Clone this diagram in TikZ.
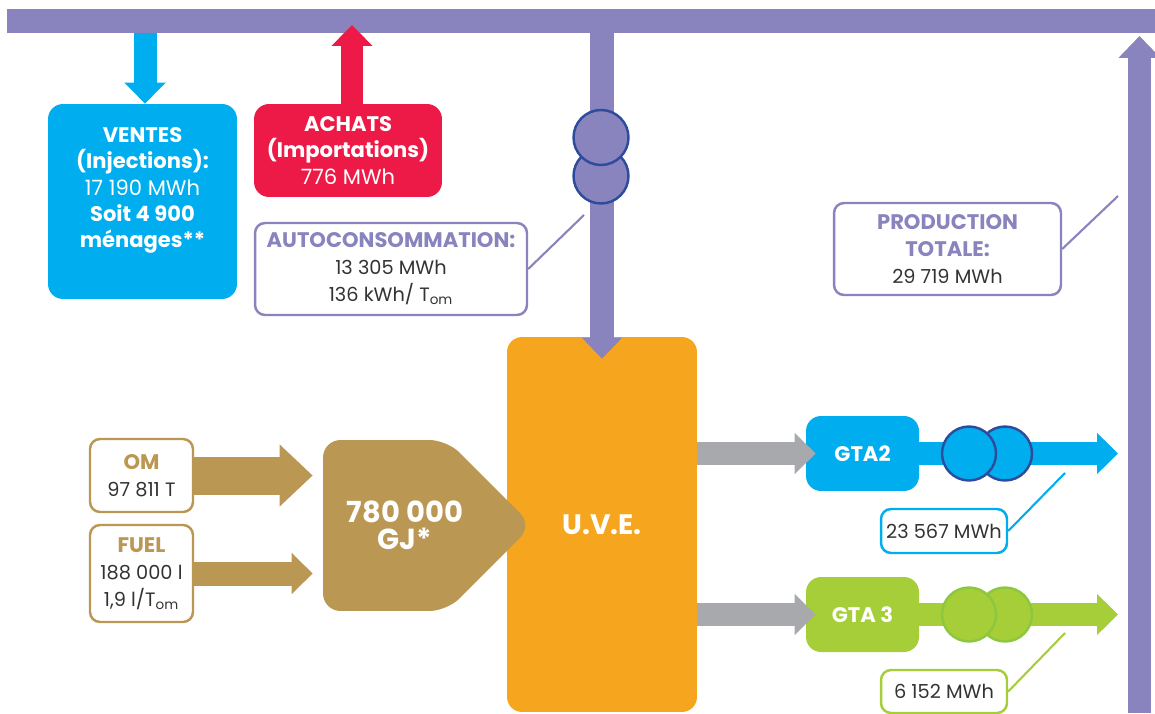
\documentclass[tikz,border=0pt]{standalone}
\usepackage{fontspec}
\setmainfont{Poppins}
\usetikzlibrary{
    arrows.meta,
    shapes.symbols
}
\definecolor{gridviolet}{HTML}{8983BE}
\definecolor{salecyan}{HTML}{00AEEF}
\definecolor{buyred}{HTML}{ED1A47}
\definecolor{plantorange}{HTML}{F6A51E}
\definecolor{fueltan}{HTML}{BA9753}
\definecolor{steamgrey}{HTML}{A7A9AC}
\definecolor{gtagreen}{HTML}{A6CE39}
\definecolor{ringblue}{HTML}{2E4C9C}
\definecolor{ringgreen}{HTML}{8DC63F}
\definecolor{valuegrey}{HTML}{333333}

\tikzset{
    pipe/.style={line width=0.46cm, -{Triangle[width=0.8cm, length=0.42cm]}},
    fatpipe/.style={line width=0.76cm, -{Triangle[width=1.2cm, length=0.66cm]}},
    bigbox/.style={rectangle, rounded corners=0.3cm, inner sep=0pt, align=center, text=white, font=\fontsize{12}{15}\selectfont},
    tagbox/.style={rectangle, draw, line width=1.4pt, rounded corners=0.2cm, fill=white, inner sep=0pt, align=center, text=valuegrey, font=\fontsize{11}{15.3}\selectfont},
    meter/.style={circle, minimum size=1.08cm, inner sep=0pt, line width=1.4pt},
    leader/.style={line width=1.2pt}
}

\begin{document}
\begin{tikzpicture}[x=0.02cm, y=-0.02cm]
            \useasboundingbox (0, 0) rectangle (1155, 713);

            \coordinate (bus1) at (7, 21);
            \coordinate (bus2) at (1155, 21);
            \coordinate (bus3) at (602, 21);
            \coordinate (bus4) at (145, 33);
            \coordinate (bus5) at (352, 25);
            \coordinate (bus6) at (1139.5, 36);
            \coordinate (base6) at (1139.5, 713);
            \coordinate (out2) at (1118, 453.5);
            \coordinate (out3) at (1118, 614.5);
            \coordinate (tap1) at (584, 215);
            \coordinate (tap2) at (1118, 196);
            \coordinate (tap3) at (1065, 473);
            \coordinate (tap4) at (1065, 633);

            \node[bigbox, fill=plantorange, minimum width=3.8cm, minimum height=7.5cm, font=\bfseries\fontsize{16}{18}\selectfont] (plant1) at (602, 524.5) {U.V.E.};
            \node[bigbox, fill=fueltan, shape=signal, signal to=east, signal pointer angle=90, rounded corners=0.35cm, minimum width=4.19cm, minimum height=3.42cm, label={[text=white, align=center, font=\bfseries\fontsize{16.5}{15.5}\selectfont, xshift=0.4cm]center:780 000\\GJ*}] (energy1) at (385, 525.5) {};

            \draw[gridviolet, line width=0.48cm] (bus1) -- (bus2);
            \draw[gridviolet, line width=0.48cm, -{Triangle[width=0.78cm, length=0.42cm]}] (bus3) -- ([yshift=-0.44cm]plant1.north);
            \node[meter, fill=gridviolet, draw=ringblue, minimum size=1.1cm] (meter1b) at (601, 176) {};
            \node[meter, fill=gridviolet, draw=ringblue, minimum size=1.1cm] (meter1a) at (601, 137.5) {};

            \node[bigbox, fill=salecyan, minimum width=3.78cm, minimum height=3.9cm, text depth=0.56cm] (sale1) at (142.5, 201.5) {\textbf{VENTES}\\\textbf{(Injections):}\\17 190 MWh\\\textbf{Soit 4 900}\\\textbf{ménages**}};
            \draw[pipe, salecyan] (bus4) -- (bus4 |- sale1.north);

            \node[bigbox, fill=buyred, minimum width=3.76cm, minimum height=1.86cm] (buy1) at (348, 150.5) {\textbf{ACHATS}\\\textbf{(Importations)}\\776 MWh};
            \draw[pipe, buyred, line width=0.44cm] (bus5 |- buy1.north) -- (bus5);

            \node[tagbox, draw=gridviolet, minimum width=5.44cm, minimum height=1.84cm] (self1) at (391, 269) {\textcolor{gridviolet}{\bfseries\fontsize{12}{15}\selectfont AUTOCONSOMMATION:}\\13 305 MWh\\136 kWh/ T\textsubscript{om}};
            \draw[leader, gridviolet] (tap1) -- (self1.east);

            \draw[gridviolet, line width=0.46cm, -{Triangle[width=0.82cm, length=0.44cm]}] (base6) -- (bus6);
            \node[tagbox, draw=gridviolet, minimum width=4.54cm, minimum height=1.84cm] (total1) at (947.5, 249) {\textcolor{gridviolet}{\bfseries\fontsize{12}{15}\selectfont PRODUCTION}\\\textcolor{gridviolet}{\bfseries\fontsize{12}{15}\selectfont TOTALE:}\\29 719 MWh};
            \draw[leader, gridviolet] (tap2) -- (total1.east);

            \node[tagbox, draw=fueltan, minimum width=2.06cm, minimum height=1.46cm] (input1) at (141.5, 475.5) {\textcolor{fueltan}{\bfseries\fontsize{12}{15}\selectfont OM}\\97 811 T};
            \node[tagbox, draw=fueltan, minimum width=2.06cm, minimum height=1.94cm] (input2) at (141.5, 573.5) {\textcolor{fueltan}{\bfseries\fontsize{12}{15}\selectfont FUEL}\\188 000 l\\1,9 l/T\textsubscript{om}};
            \draw[fatpipe, fueltan, shorten >=0.2cm] (input1.east) -- (input1.east -| energy1.west);
            \draw[pipe, fueltan, line width=0.48cm, shorten >=0.2cm] (input2.east) -- (input2.east -| energy1.west);

            \node[bigbox, fill=salecyan, minimum width=2.26cm, minimum height=1.5cm, font=\bfseries\fontsize{12}{15}\selectfont] (gta2) at (862.5, 453.5) {GTA2};
            \node[bigbox, fill=gtagreen, minimum width=2.26cm, minimum height=1.5cm, font=\bfseries\fontsize{12}{15}\selectfont] (gta3) at (862.5, 614.5) {GTA 3};
            \draw[pipe, steamgrey] (plant1.east |- gta2.west) -- ([xshift=0.2cm]gta2.west);
            \draw[pipe, steamgrey] (plant1.east |- gta3.west) -- ([xshift=0.2cm]gta3.west);

            \draw[pipe, salecyan] (gta2.east) -- (out2);
            \node[meter, fill=salecyan, draw=ringblue] (meter2b) at (1005, 453.5) {};
            \node[meter, fill=salecyan, draw=ringblue] (meter2a) at (969, 453.5) {};
            \draw[pipe, gtagreen] (gta3.east) -- (out3);
            \node[meter, fill=gtagreen, draw=ringgreen] (meter3b) at (1005, 614.5) {};
            \node[meter, fill=gtagreen, draw=ringgreen] (meter3a) at (969, 614.5) {};

            \node[tagbox, draw=salecyan, minimum width=2.52cm, minimum height=0.88cm] (value2) at (944, 531) {23 567 MWh};
            \draw[leader, salecyan] (tap3) -- (value2.east);
            \node[tagbox, draw=gtagreen, minimum width=2.52cm, minimum height=0.86cm] (value3) at (944, 691.5) {6 152 MWh};
            \draw[leader, gtagreen] (tap4) -- (value3.east);
\end{tikzpicture}
\end{document}
